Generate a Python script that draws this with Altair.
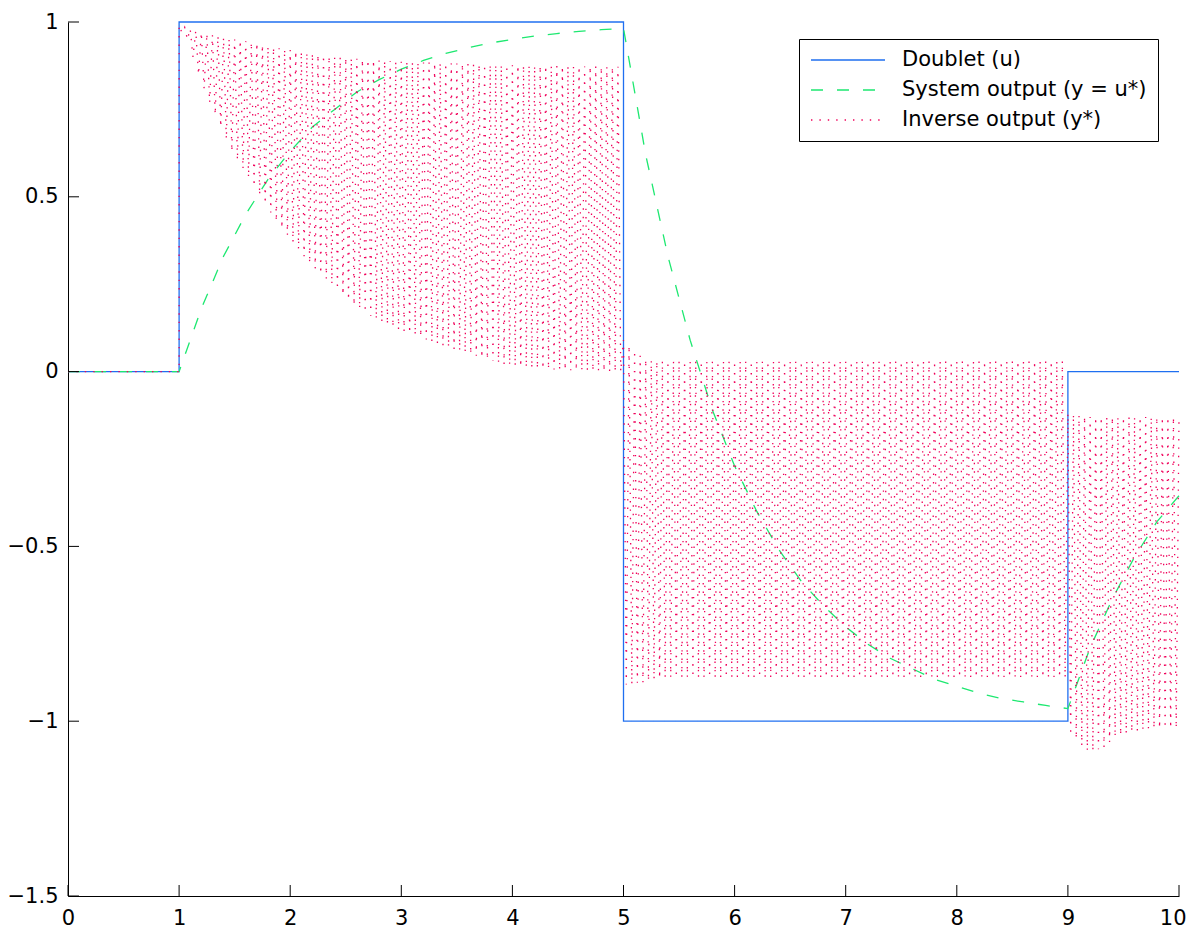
import altair as alt
import pandas as pd

# ---------------- data ----------------
series_names = ["Doublet (u)", "System output (y = u*)", "Inverse output (y*)"]

# Doublet input (step corners)
doublet_x = [0, 1, 1, 5, 5, 9, 9, 10]
doublet_y = [0, 0, 1, 1, -1, -1, 0, 0]

# System output sampled at x = 0, 0.2, ..., 10
system_x = [round(0.2 * k, 1) for k in range(51)]
system_y = [
    0, 0, 0, 0, 0, 0,
    0.18, 0.33, 0.45, 0.55, 0.63, 0.70, 0.75, 0.80, 0.835, 0.865,
    0.89, 0.91, 0.926, 0.94, 0.95, 0.96, 0.967, 0.973, 0.978, 0.982,
    0.62, 0.33, 0.09, -0.11, -0.27, -0.40, -0.51, -0.60, -0.67, -0.73,
    -0.78, -0.82, -0.85, -0.88, -0.90, -0.92, -0.935, -0.945, -0.955, -0.964,
    -0.79, -0.65, -0.53, -0.43, -0.355,
]

# Inverse output: fast oscillation. Upper peaks at x = 1.00, 1.05, ..., 10.00
red_hi = [
    0.99, 0.985, 0.98, 0.975, 0.97, 0.967, 0.963, 0.96, 0.955, 0.952,
    0.95, 0.947, 0.945, 0.942, 0.94, 0.935, 0.93, 0.927, 0.925, 0.922,
    0.92, 0.917, 0.915, 0.912, 0.91, 0.907, 0.905, 0.902, 0.90, 0.899,
    0.898, 0.896, 0.895, 0.893, 0.892, 0.891, 0.89, 0.889, 0.888, 0.887,
    0.886, 0.886, 0.885, 0.885, 0.884, 0.884, 0.883, 0.883, 0.882, 0.882,
    0.881, 0.881, 0.88, 0.88, 0.879, 0.879, 0.878, 0.878, 0.877, 0.877,
    0.876, 0.876, 0.876, 0.876, 0.875, 0.875, 0.875, 0.875, 0.874, 0.874,
    0.874, 0.874, 0.873, 0.873, 0.873, 0.873, 0.872, 0.872, 0.872, 0.872,
    0.09, 0.075, 0.06, 0.045, 0.035, 0.032, 0.03, 0.03, 0.03, 0.03,
    0.03, 0.03, 0.03, 0.03, 0.03, 0.03, 0.03, 0.03, 0.03, 0.03,
    0.03, 0.03, 0.03, 0.03, 0.03, 0.03, 0.03, 0.03, 0.03, 0.03,
    0.03, 0.03, 0.03, 0.03, 0.03, 0.03, 0.03, 0.03, 0.03, 0.03,
    0.03, 0.03, 0.03, 0.03, 0.03, 0.03, 0.03, 0.03, 0.03, 0.03,
    0.03, 0.03, 0.03, 0.03, 0.03, 0.03, 0.03, 0.03, 0.03, 0.03,
    0.03, 0.03, 0.03, 0.03, 0.03, 0.03, 0.03, 0.03, 0.03, 0.03,
    0.03, 0.03, 0.03, 0.03, 0.03, 0.03, 0.03, 0.03, 0.03, 0.03,
    -0.12, -0.122, -0.125, -0.128, -0.13, -0.13, -0.13, -0.13, -0.13, -0.13,
    -0.13, -0.13, -0.13, -0.13, -0.13, -0.13, -0.13, -0.13, -0.13, -0.13,
    -0.13,
]
# lower troughs at x = 1.025, 1.075, ..., 9.975
red_lo = [
    0.97, 0.95, 0.90, 0.85, 0.81, 0.77, 0.735, 0.70, 0.665, 0.63,
    0.605, 0.58, 0.555, 0.53, 0.505, 0.48, 0.455, 0.43, 0.41, 0.39,
    0.37, 0.35, 0.33, 0.31, 0.295, 0.28, 0.265, 0.25, 0.235, 0.22,
    0.205, 0.19, 0.18, 0.17, 0.16, 0.15, 0.142, 0.135, 0.128, 0.12,
    0.115, 0.11, 0.105, 0.10, 0.092, 0.085, 0.08, 0.075, 0.07, 0.065,
    0.06, 0.055, 0.05, 0.045, 0.04, 0.035, 0.03, 0.025, 0.021, 0.018,
    0.016, 0.014, 0.012, 0.01, 0.009, 0.008, 0.007, 0.006, 0.005, 0.005,
    0.004, 0.004, 0.003, 0.003, 0.002, 0.002, 0.001, 0.001, 0.0, 0.0,
    -0.895, -0.895, -0.89, -0.89, -0.885, -0.88, -0.877, -0.875, -0.875, -0.875,
    -0.875, -0.875, -0.875, -0.875, -0.875, -0.875, -0.875, -0.875, -0.875, -0.875,
    -0.875, -0.875, -0.875, -0.875, -0.875, -0.875, -0.875, -0.875, -0.875, -0.875,
    -0.875, -0.875, -0.875, -0.875, -0.875, -0.875, -0.875, -0.875, -0.875, -0.875,
    -0.875, -0.875, -0.875, -0.875, -0.875, -0.875, -0.875, -0.875, -0.875, -0.875,
    -0.875, -0.875, -0.875, -0.875, -0.875, -0.875, -0.875, -0.875, -0.875, -0.875,
    -0.875, -0.875, -0.875, -0.875, -0.875, -0.875, -0.875, -0.875, -0.875, -0.875,
    -0.875, -0.875, -0.875, -0.875, -0.875, -0.875, -0.875, -0.875, -0.875, -0.875,
    -1.04, -1.05, -1.07, -1.085, -1.085, -1.08, -1.075, -1.06, -1.045, -1.04,
    -1.035, -1.03, -1.028, -1.025, -1.022, -1.02, -1.02, -1.02, -1.02, -1.02,
]

x_ticks = [0, 1, 2, 3, 4, 5, 6, 7, 8, 9, 10]
y_ticks = [-1.5, -1, -0.5, 0, 0.5, 1]

colors = ["#1f6ff0", "#1de870", "#f0005a"]
dashes = [[1, 0], [12, 14], [1.4, 7]]

# ---------------- tables ----------------
blue_df = pd.DataFrame({"x": doublet_x, "y": doublet_y,
                        "i": list(range(len(doublet_x))), "series": series_names[0]})
green_df = pd.DataFrame({"x": system_x, "y": system_y,
                         "i": list(range(len(system_x))), "series": series_names[1]})

rx, ry = [0.0, 1.0], [0.0, 0.0]
for k in range(len(red_hi) + len(red_lo)):
    rx.append(round(1.0 + 0.025 * k, 3))
    ry.append(red_hi[k // 2] if k % 2 == 0 else red_lo[k // 2])
red_df = pd.DataFrame({"x": rx, "y": ry, "i": list(range(len(rx))), "series": series_names[2]})

W, H = 1111, 874
FONT = "DejaVu Sans"
FS = 21

xs = alt.Scale(domain=[0, 10], nice=False, zero=False)
ys = alt.Scale(domain=[-1.5, 1], nice=False, zero=False)

legend = alt.Legend(
    title=None, orient="none", legendX=731, legendY=17,
    strokeColor="black", fillColor="white", padding=11,
    symbolType="stroke", symbolSize=5476, symbolStrokeWidth=1.3,
    labelFontSize=FS, labelFont=FONT, labelColor="black",
    labelOffset=16, rowPadding=9, labelLimit=600, clipHeight=20,
)

color = alt.Color("series:N", scale=alt.Scale(domain=series_names, range=colors), legend=legend)
dash = alt.StrokeDash("series:N", scale=alt.Scale(domain=series_names, range=dashes), legend=legend)

x_enc = alt.X("x:Q", scale=xs, axis=alt.Axis(
    values=x_ticks, format="~g", ticks=False, grid=False, title=None, labelFontSize=FS,
    labelFont=FONT, labelColor="black", labelPadding=11, labelFlush=False,
    labelOverlap=False, domainColor="black", domainWidth=1,
    labelAlign={"condition": {"test": "datum.value == 10", "value": "right"}, "value": "center"},
    labelOffset={"condition": {"test": "datum.value == 10", "value": 7}, "value": 0}))
y_enc = alt.Y("y:Q", scale=ys, axis=alt.Axis(
    values=y_ticks, format="~g", ticks=False, grid=False, title=None, labelFontSize=FS,
    labelFont=FONT, labelColor="black", labelPadding=10, labelFlush=False,
    labelOverlap=False, domainColor="black", domainWidth=1))

blue = alt.Chart(blue_df).mark_line(strokeWidth=1.3).encode(
    x=x_enc, y=y_enc, color=color, strokeDash=dash, order="i:Q")
green = alt.Chart(green_df).mark_line(strokeWidth=1.3).encode(
    x="x:Q", y="y:Q", color=color, strokeDash=dash, order="i:Q")
red = alt.Chart(red_df).mark_line(strokeWidth=1.3).encode(
    x="x:Q", y="y:Q", color=color, strokeDash=dash, order="i:Q")

xt = alt.Chart(pd.DataFrame({"x": x_ticks})).mark_rule(color="black", strokeWidth=1).encode(
    x="x:Q", y=alt.datum(-1.5), y2=alt.value(H - 11))
yt = alt.Chart(pd.DataFrame({"y": y_ticks})).mark_rule(color="black", strokeWidth=1).encode(
    y="y:Q", x=alt.datum(0), x2=alt.value(11))

chart = alt.layer(blue, green, red, xt, yt).properties(
    width=W, height=H,
    autosize=alt.AutoSizeParams(type="none"),
    padding={"left": 60, "top": 14, "right": 8, "bottom": 36},
    background="white",
).configure_view(stroke=None)

chart.save("out.html", embed_options={"renderer": "svg", "actions": False})
